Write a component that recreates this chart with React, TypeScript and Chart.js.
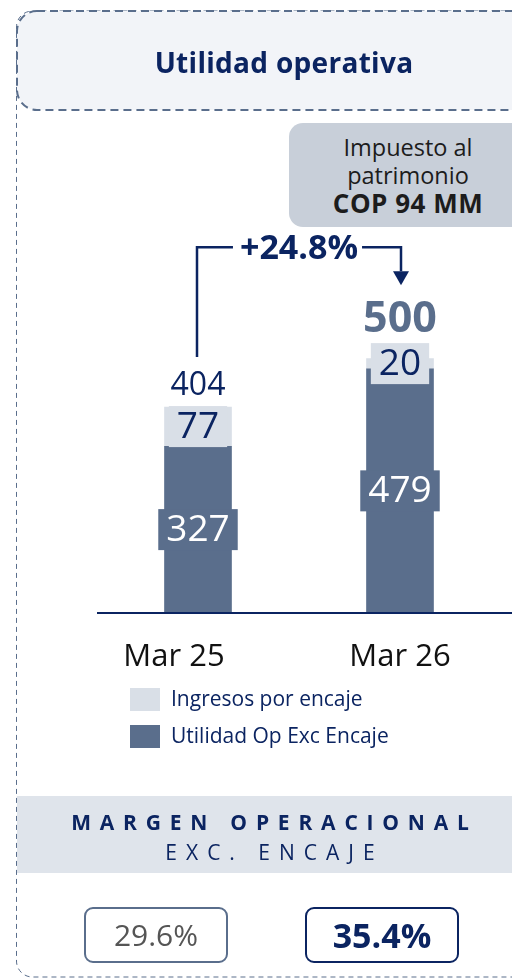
import React, { useEffect, useRef } from "react";
import { Chart, registerables } from "chart.js";
Chart.register(...registerables);

// ---------- data ----------
const categories = ["Mar 25", "Mar 26"];
const utilidadExcEncaje = [327, 479];
const ingresosEncaje = [77, 20];
const totals = [404, 500];
const seriesNames = ["Utilidad Op Exc Encaje", "Ingresos por encaje"];
const growthLabel = "+24.8%";
const calloutLines = ["Impuesto al", "patrimonio", "COP 94 MM"];
const marginTitle = ["MARGEN OPERACIONAL", "EXC. ENCAJE"];
const marginValues = ["29.6%", "35.4%"];
const chartTitle = "Utilidad operativa";

// ---------- styles ----------
const NAVY = "#0b2461";
const SLATE = "#5a6e8c";
const LIGHT = "#d9dfe7";
const FONT = "'Open Sans', sans-serif";
const tickShift = [-24, 0];
const totalStyle = [
  { weight: "400", size: 32, color: NAVY },
  { weight: "700", size: 43, color: SLATE },
];

const overlayPlugin = {
  id: "overlay",
  afterDatasetsDraw(chart: any) {
    const ctx = chart.ctx as CanvasRenderingContext2D;
    const xs = chart.scales.x;
    const ys = chart.scales.y;
    const y0 = ys.getPixelForValue(0);
    const area = chart.chartArea;
    ctx.save();

    // baseline
    ctx.strokeStyle = NAVY;
    ctx.lineWidth = 2;
    ctx.beginPath();
    ctx.moveTo(area.left, y0);
    ctx.lineTo(chart.width, y0);
    ctx.stroke();

    // segment labels
    const boxTop: number[] = categories.map(() => Infinity);
    chart.data.datasets.forEach((ds: any, d: number) => {
      const meta = chart.getDatasetMeta(d);
      meta.data.forEach((el: any, i: number) => {
        const cy = (el.y + el.base) / 2;
        const txt = String(ds.data[i]);
        ctx.font = `400 37px ${FONT}`;
        const w = ctx.measureText(txt).width;
        const bw = w + 16;
        const bh = 41;
        ctx.fillStyle = ds.backgroundColor;
        ctx.fillRect(el.x - bw / 2, cy - bh / 2, bw, bh);
        ctx.fillStyle = d === 0 ? "#ffffff" : NAVY;
        ctx.textAlign = "center";
        ctx.textBaseline = "middle";
        ctx.fillText(txt, el.x, cy + 1);
        boxTop[i] = Math.min(boxTop[i], cy - bh / 2, el.y);
      });
    });

    // totals
    const totalTop: number[] = [];
    const centers: number[] = categories.map((_, i) => xs.getPixelForValue(i));
    totals.forEach((t, i) => {
      const st = totalStyle[i];
      ctx.font = `${st.weight} ${st.size}px ${FONT}`;
      ctx.fillStyle = st.color;
      ctx.textAlign = "center";
      ctx.textBaseline = "alphabetic";
      const base = boxTop[i] - 11;
      ctx.fillText(String(t), centers[i], base);
      totalTop.push(base - st.size * 0.72);
    });

    // growth arrow
    const x1 = centers[0] - 1;
    const x2 = centers[1] + 1;
    const ay = Math.min(...totalTop) - 54;
    ctx.font = `700 34px ${FONT}`;
    const gw = ctx.measureText(growthLabel).width;
    const cx = (x1 + x2) / 2;
    ctx.strokeStyle = NAVY;
    ctx.lineWidth = 2.5;
    ctx.beginPath();
    ctx.moveTo(x1, totalTop[0] - 15);
    ctx.lineTo(x1, ay);
    ctx.lineTo(cx - gw / 2 - 7, ay);
    ctx.moveTo(cx + gw / 2 + 4, ay);
    ctx.lineTo(x2, ay);
    ctx.lineTo(x2, totalTop[1] - 30);
    ctx.stroke();
    const tip = totalTop[1] - 16;
    ctx.fillStyle = NAVY;
    ctx.beginPath();
    ctx.moveTo(x2 - 8, tip - 14);
    ctx.lineTo(x2 + 8, tip - 14);
    ctx.lineTo(x2, tip);
    ctx.closePath();
    ctx.fill();
    ctx.textAlign = "center";
    ctx.textBaseline = "middle";
    ctx.fillText(growthLabel, cx, ay + 2);

    // category labels
    ctx.font = `400 31px ${FONT}`;
    ctx.fillStyle = "#111111";
    categories.forEach((c, i) => {
      ctx.fillText(c, centers[i] + tickShift[i], y0 + 44);
    });

    // legend (reverse order)
    const dsList = [...chart.data.datasets].reverse();
    dsList.forEach((ds: any, k: number) => {
      const top = y0 + 75 + k * 37;
      ctx.fillStyle = ds.backgroundColor;
      ctx.fillRect(130, top, 30, 23);
      ctx.font = `400 21px ${FONT}`;
      ctx.fillStyle = NAVY;
      ctx.textAlign = "left";
      ctx.textBaseline = "middle";
      ctx.fillText(ds.label, 171, top + 12);
    });

    ctx.restore();
  },
};

export default function App() {
  const ref = useRef<HTMLCanvasElement | null>(null);
  useEffect(() => {
    if (!ref.current) return;
    const chart = new Chart(ref.current, {
      type: "bar",
      data: {
        labels: categories,
        datasets: [
          {
            label: seriesNames[0],
            data: utilidadExcEncaje,
            backgroundColor: SLATE,
            barThickness: 67,
            stack: "s",
          },
          {
            label: seriesNames[1],
            data: ingresosEncaje,
            backgroundColor: LIGHT,
            barThickness: 67,
            stack: "s",
          },
        ],
      },
      options: {
        responsive: false,
        animation: false,
        devicePixelRatio: 1,
        layout: { padding: { left: 97, right: 11, top: 256, bottom: 366 } },
        plugins: { legend: { display: false }, tooltip: { enabled: false } },
        scales: {
          x: { display: false, stacked: true, offset: true },
          y: { display: false, stacked: true, min: 0, max: 700 },
        },
      },
      plugins: [overlayPlugin],
    });
    return () => chart.destroy();
  }, []);

  const abs = (s: React.CSSProperties): React.CSSProperties => ({ position: "absolute", ...s });

  return (
    <div
      style={{
        position: "fixed",
        left: 0,
        top: 0,
        width: 512,
        height: 979,
        overflow: "hidden",
        background: "#ffffff",
        fontFamily: FONT,
      }}
    >
      <svg width={512} height={979} style={abs({ left: 0, top: 0 })}>
        <rect x={16.5} y={11} width={560} height={966} rx={16} fill="none" stroke={SLATE} strokeWidth={1} strokeDasharray="5 4" />
        <rect x={17} y={11} width={540} height={99} rx={20} fill="#f2f4f8" stroke={SLATE} strokeWidth={2} strokeDasharray="8 5" />
        <rect x={17} y={796} width={495} height={77} fill="#dfe4eb" />
      </svg>
      <canvas ref={ref} width={512} height={979} style={abs({ left: 0, top: 0 })} />
      <div style={abs({ left: 0, top: 42, width: 568, height: 40, lineHeight: "40px", textAlign: "center", fontWeight: 700, fontSize: 28, letterSpacing: 0.3, color: NAVY })}>
        {chartTitle}
      </div>
      <div
        style={abs({
          left: 289,
          top: 123,
          width: 238,
          height: 104,
          borderRadius: 14,
          background: "#c8cfd9",
          boxSizing: "border-box",
          paddingTop: 10,
          textAlign: "center",
          color: "#1c1c1c",
        })}
      >
        <div style={{ fontSize: 23.5, lineHeight: "28px" }}>{calloutLines[0]}</div>
        <div style={{ fontSize: 23.5, lineHeight: "28px" }}>{calloutLines[1]}</div>
        <div style={{ fontSize: 26, lineHeight: "28px", fontWeight: 700, letterSpacing: 0.5 }}>{calloutLines[2]}</div>
      </div>
      <div style={abs({ left: 0, top: 808, width: 540, height: 28, lineHeight: "28px", textAlign: "center", fontWeight: 700, fontSize: 21, letterSpacing: 8.8, textIndent: 8.8, color: NAVY })}>
        {marginTitle[0]}
      </div>
      <div style={abs({ left: 0, top: 838, width: 540, height: 28, lineHeight: "28px", textAlign: "center", fontWeight: 400, fontSize: 21, letterSpacing: 9, textIndent: 9, color: NAVY })}>
        {marginTitle[1]}
      </div>
      <div
        style={abs({
          left: 84,
          top: 907,
          width: 144,
          height: 56,
          boxSizing: "border-box",
          border: `2px solid ${SLATE}`,
          borderRadius: 9,
          lineHeight: "52px",
          textAlign: "center",
          fontSize: 30,
          color: "#555555",
        })}
      >
        {marginValues[0]}
      </div>
      <div
        style={abs({
          left: 305,
          top: 907,
          width: 154,
          height: 56,
          boxSizing: "border-box",
          border: `2px solid ${NAVY}`,
          borderRadius: 9,
          lineHeight: "52px",
          textAlign: "center",
          fontSize: 34,
          fontWeight: 700,
          color: NAVY,
        })}
      >
        {marginValues[1]}
      </div>
    </div>
  );
}
